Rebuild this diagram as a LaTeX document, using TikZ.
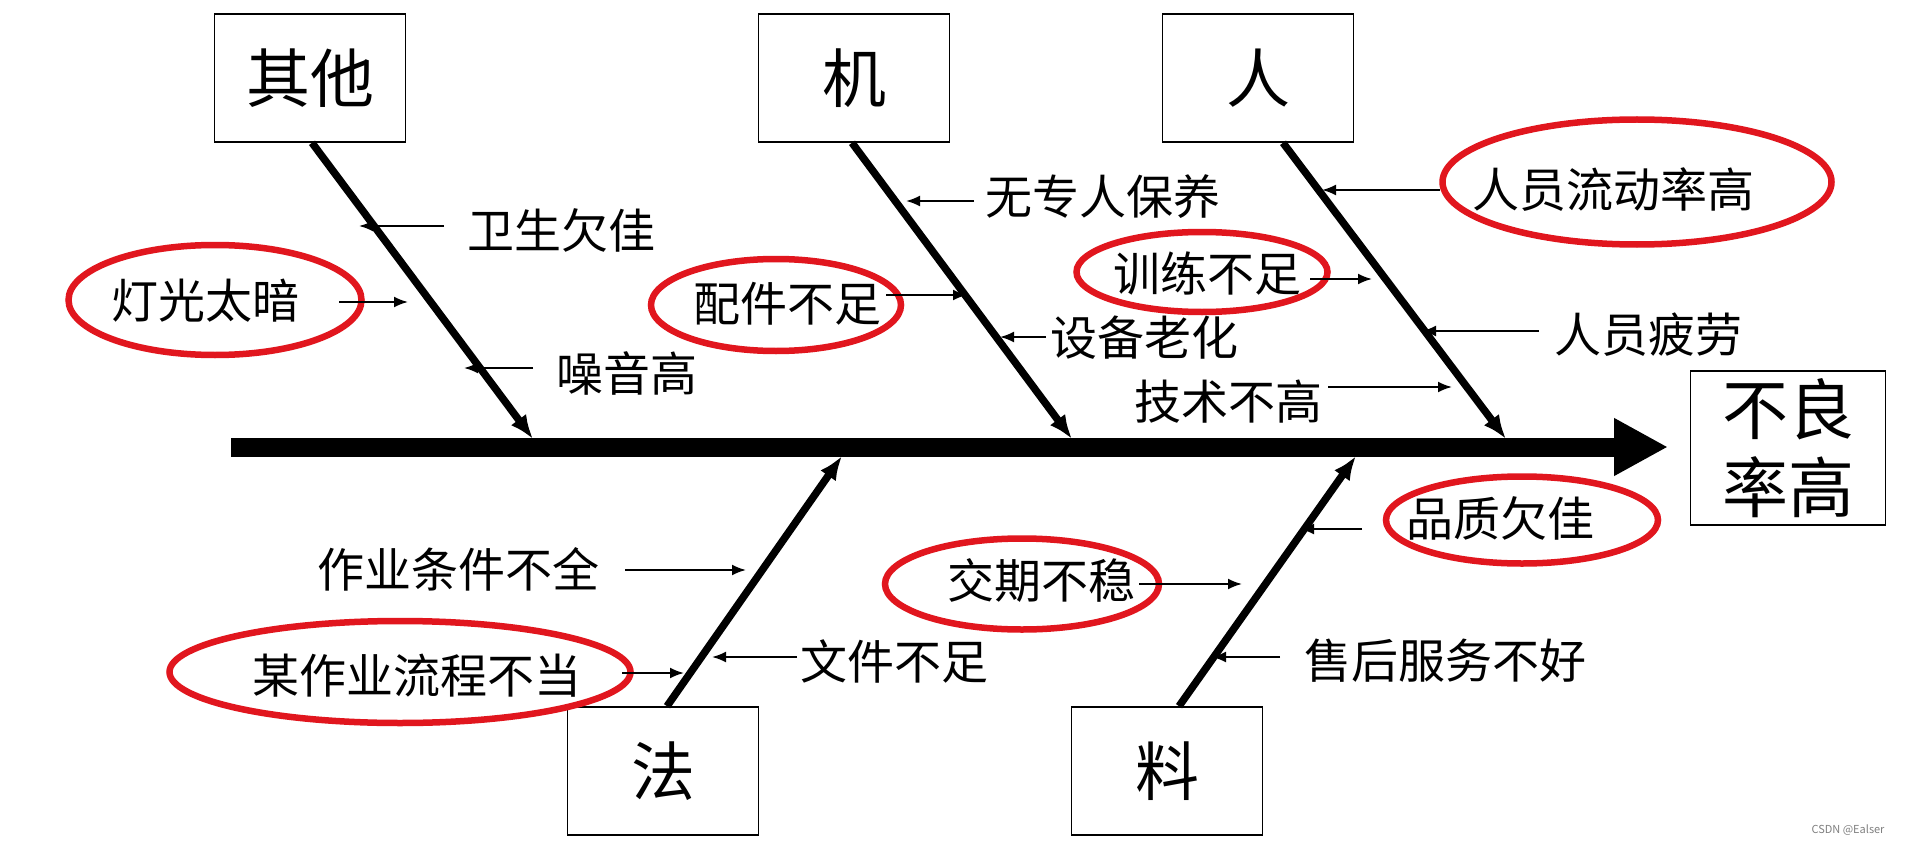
\documentclass[tikz,border=0pt]{standalone}
\usepackage{fontspec}
\setmainfont{Noto Sans CJK SC}
\usetikzlibrary{arrows.meta,shapes.geometric}
\definecolor{ered}{RGB}{225,22,30}
\begin{document}
\begin{tikzpicture}[x=1pt,y=-1pt,
  catbox/.style={draw,line width=1.6pt,minimum width=191pt,minimum height=128pt,inner sep=0pt,font=\fontsize{64}{70}\selectfont},
  lbl/.style={inner sep=0pt,font=\fontsize{47}{50}\selectfont},
  ring/.style={draw=ered,line width=6.5pt,ellipse,inner sep=0pt},
  bone/.style={line width=7.5pt,-{Latex[length=24pt,width=19pt]}},
  sub/.style={line width=2pt,-{Latex[length=14pt,width=11pt]}},
  spine/.style={line width=19pt,-{Triangle[length=54pt,width=54pt]}},
]
\useasboundingbox (0,0) rectangle (1905,845);
\fill[white] (0,0) rectangle (1905,845);

% category boxes
\node[catbox] (qita) at (310,78) {其他};
\node[catbox] (ji) at (854,78) {机};
\node[catbox] (ren) at (1258,78) {人};
\node[catbox] (fa) at (663,771) {法};
\node[catbox] (liao) at (1167,771) {料};
\node[draw,line width=1.6pt,minimum width=195pt,minimum height=154pt,inner sep=0pt,
      align=center,font=\fontsize{66}{78}\selectfont] (res) at (1788,448) {不良\\率高};

% spine
\coordinate (sp0) at (231,447);
\coordinate (sp1) at (1668,447);
\draw[spine] (sp0) -- (sp1);

% bones
\coordinate (b1) at (533,439);
\coordinate (b2) at (1072,439);
\coordinate (b3) at (1506,439);
\coordinate (b4) at (842,456);
\coordinate (b5) at (1356,456);
\draw[bone] ([xshift=2pt]qita.south) -- (b1);
\draw[bone] ([xshift=-2pt]ji.south) -- (b2);
\draw[bone] ([xshift=25pt]ren.south) -- (b3);
\draw[bone] ([xshift=4pt]fa.north) -- (b4);
\draw[bone] ([xshift=12pt]liao.north) -- (b5);

% red ellipses
\node[ring,minimum width=293pt,minimum height=110pt] (e1) at (215,300) {};
\node[ring,minimum width=250pt,minimum height=92pt] (e2) at (776,305) {};
\node[ring,minimum width=251pt,minimum height=80pt] (e3) at (1202,272) {};
\node[ring,minimum width=389pt,minimum height=125pt] (e4) at (1637,182) {};
\node[ring,minimum width=272pt,minimum height=87pt] (e5) at (1522,520) {};
\node[ring,minimum width=274pt,minimum height=91pt] (e6) at (1022,584) {};
\node[ring,minimum width=461pt,minimum height=102pt] (e7) at (400,672) {};

% labels
\node[lbl] (t1) at (561,230) {卫生欠佳};
\node[lbl] (t2) at (205,301) {灯光太暗};
\node[lbl] (t3) at (627,373) {噪音高};
\node[lbl] (t4) at (1103,197) {无专人保养};
\node[lbl] (t5) at (787,304) {配件不足};
\node[lbl] (t6) at (1144,338) {设备老化};
\node[lbl] (t7) at (1207,274) {训练不足};
\node[lbl] (t8) at (1228,402) {技术不高};
\node[lbl] (t9) at (1613,190) {人员流动率高};
\node[lbl] (t10) at (1648,335) {人员疲劳};
\node[lbl] (t11) at (1500,518) {品质欠佳};
\node[lbl] (t12) at (1041,581) {交期不稳};
\node[lbl] (t13) at (1445,661) {售后服务不好};
\node[lbl] (t14) at (894,661) {文件不足};
\node[lbl] (t15) at (458,569) {作业条件不全};
\node[lbl] (t16) at (417,676) {某作业流程不当};

% sub-cause arrows
\coordinate (a1s) at (444,226);  \coordinate (a1e) at (359,226);
\coordinate (a2s) at (339,302);  \coordinate (a2e) at (408,302);
\coordinate (a3s) at (533,368);  \coordinate (a3e) at (464,368);
\coordinate (a4s) at (974,201);  \coordinate (a4e) at (906,201);
\coordinate (a5s) at (886,295);  \coordinate (a5e) at (967,295);
\coordinate (a6s) at (1046,337); \coordinate (a6e) at (1000,337);
\coordinate (a7s) at (1310,279); \coordinate (a7e) at (1372,279);
\coordinate (a8s) at (1328,387); \coordinate (a8e) at (1452,387);
\coordinate (a9s) at (1440,190); \coordinate (a9e) at (1322,190);
\coordinate (a10s) at (1539,331); \coordinate (a10e) at (1422,331);
\coordinate (a11s) at (1362,529); \coordinate (a11e) at (1300,529);
\coordinate (a12s) at (1139,584); \coordinate (a12e) at (1242,584);
\coordinate (a13s) at (1280,657); \coordinate (a13e) at (1212,657);
\coordinate (a14s) at (797,657);  \coordinate (a14e) at (712,657);
\coordinate (a15s) at (625,570);  \coordinate (a15e) at (746,570);
\coordinate (a16s) at (622,673);  \coordinate (a16e) at (684,673);
\foreach \i in {1,...,16} {\draw[sub] (a\i s) -- (a\i e);}

% watermark
\node[inner sep=0pt,text=gray,font=\fontsize{11}{12}\selectfont] (wm) at (1848,830) {CSDN @Ealser};
\end{tikzpicture}
\end{document}
